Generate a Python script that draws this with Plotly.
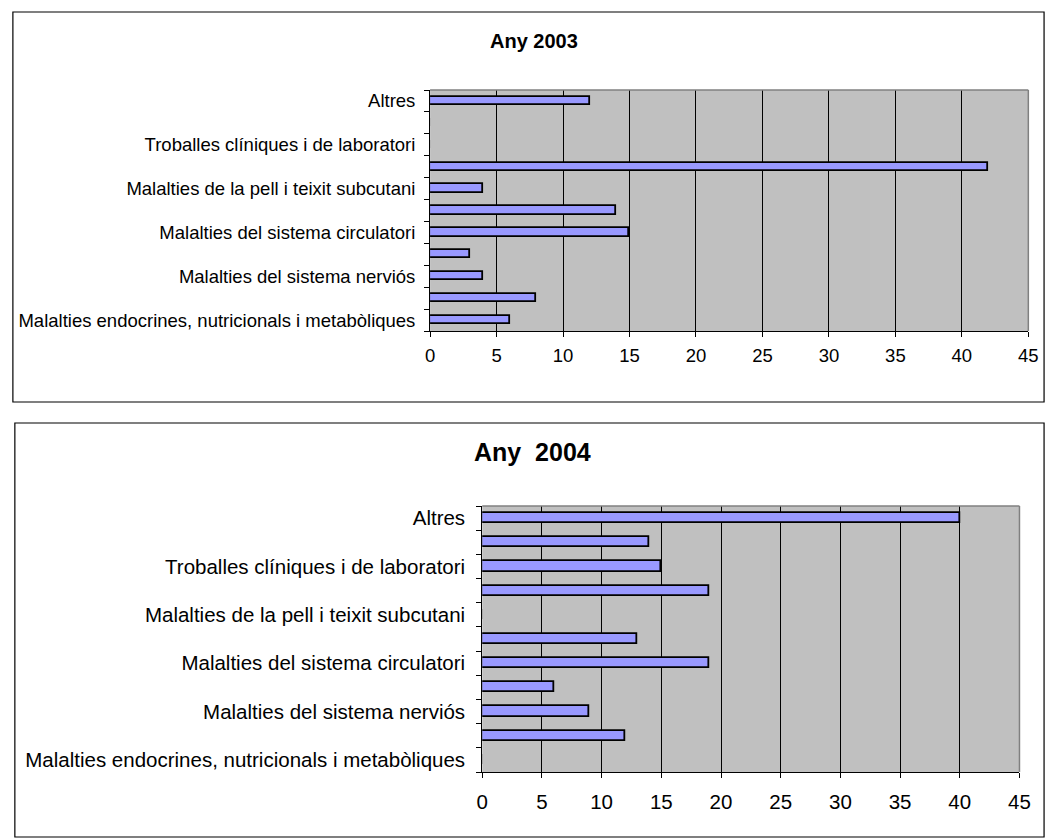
import plotly.graph_objects as go

# ---------------- data ----------------
categories = [
    "Malalties endocrines, nutricionals i metabòliques",
    "Trastorns mentals i del comportament",
    "Malalties del sistema nerviós",
    "Malalties de l'ull i dels annexos",
    "Malalties del sistema circulatori",
    "Malalties del sistema respiratori",
    "Malalties de la pell i teixit subcutani",
    "Malalties del sistema osteomuscular",
    "Troballes clíniques i de laboratori",
    "Lesions i enverinaments",
    "Altres",
]
values_2003 = [6, 8, 4, 3, 15, 14, 4, 42, 0, 0, 12]
values_2004 = [0, 12, 9, 6, 19, 13, 0, 19, 15, 14, 40]
x_tick_values = [0, 5, 10, 15, 20, 25, 30, 35, 40, 45]
titles = ["Any 2003", "Any  2004"]

# ---------------- layout helpers ----------------
W, H = 1059, 839


def px_x(x):
    return x / W


def px_y(y):
    return 1 - y / H


positions = list(range(len(categories)))
shown_text = [c if i % 2 == 0 else "" for i, c in enumerate(categories)]

BAR_COLOR = "#9999FF"
GRID = "#000000"
FONT = "Liberation Sans, Arial, sans-serif"

fig = go.Figure()

fig.add_trace(go.Bar(
    x=values_2003, y=positions, orientation="h", width=0.38,
    marker=dict(color=BAR_COLOR, line=dict(color="#000000", width=1.8)),
    xaxis="x", yaxis="y", showlegend=False, hoverinfo="x",
))
fig.add_trace(go.Bar(
    x=values_2004, y=positions, orientation="h", width=0.42,
    marker=dict(color=BAR_COLOR, line=dict(color="#000000", width=1.8)),
    xaxis="x2", yaxis="y2", showlegend=False, hoverinfo="x",
))

# plot-area pixel boxes [left, right, top, bottom]
top_box = (431, 1039, 90, 331)
bot_box = (484, 1030, 506, 772)


def xaxis_cfg(box, fsize, anchor, standoff):
    return dict(
        domain=[px_x(box[0]), px_x(box[1])], range=[0, 45],
        tickmode="array", tickvals=x_tick_values,
        showgrid=True, gridcolor=GRID, gridwidth=1,
        showline=True, linecolor="#000000", linewidth=1,
        ticks="outside", ticklen=5, tickcolor="#000000",
        tickfont=dict(family=FONT, size=fsize, color="#000000"),
        ticklabelstandoff=standoff, zeroline=False, anchor=anchor, fixedrange=True,
    )


def yaxis_cfg(box, fsize, anchor, standoff):
    return dict(
        domain=[px_y(box[3]), px_y(box[2])], range=[-0.5, len(categories) - 0.5],
        tickmode="array", tickvals=positions, ticktext=shown_text,
        ticks="outside", ticklen=0,
        minor=dict(tickmode="linear", tick0=-0.5, dtick=1, ticks="outside",
                   ticklen=5, tickcolor="#000000", showgrid=False),
        showgrid=False, zeroline=False,
        showline=True, linecolor="#000000", linewidth=1,
        tickfont=dict(family=FONT, size=fsize, color="#000000"),
        ticklabelstandoff=standoff, anchor=anchor, fixedrange=True,
    )


fig.update_layout(
    width=W, height=H,
    margin=dict(l=0, r=0, t=0, b=0),
    paper_bgcolor="#FFFFFF", plot_bgcolor="#C0C0C0",
    bargap=0,
    xaxis=xaxis_cfg(top_box, 18.5, "y", 3),
    yaxis=yaxis_cfg(top_box, 18.5, "x", 10),
    xaxis2=xaxis_cfg(bot_box, 20.5, "y2", 6),
    yaxis2=yaxis_cfg(bot_box, 20.5, "x2", 12),
)

shapes = []
# outer chart borders
shapes.append(dict(type="rect", xref="paper", yref="paper",
                   x0=px_x(7), x1=px_x(1055), y0=px_y(402), y1=px_y(12),
                   line=dict(color="#000000", width=1.2), layer="below"))
shapes.append(dict(type="rect", xref="paper", yref="paper",
                   x0=px_x(9), x1=px_x(1055), y0=px_y(837), y1=px_y(423),
                   line=dict(color="#000000", width=1.2), layer="below"))
# grey plot-area frames (top and right edges)
for xa, ya in (("x", "y"), ("x2", "y2")):
    shapes.append(dict(type="line", xref=f"{xa} domain", yref=f"{ya} domain",
                       x0=0, x1=1, y0=1, y1=1, line=dict(color="#808080", width=1.5)))
    shapes.append(dict(type="line", xref=f"{xa} domain", yref=f"{ya} domain",
                       x0=1, x1=1, y0=0, y1=1, line=dict(color="#808080", width=1.5)))
fig.update_layout(shapes=shapes)

fig.add_annotation(text=f"<b>{titles[0]}</b>", xref="paper", yref="paper",
                   x=px_x(537), y=px_y(41), xanchor="center", yanchor="middle",
                   showarrow=False,
                   font=dict(family=FONT, size=20, color="#000000"))
fig.add_annotation(text=f"<b>{titles[1]}</b>", xref="paper", yref="paper",
                   x=px_x(535), y=px_y(452), xanchor="center", yanchor="middle",
                   showarrow=False,
                   font=dict(family=FONT, size=25, color="#000000"))

fig.write_html(
    "out.html",
    config={"displayModeBar": False},
    post_script="document.body.style.margin='0';document.body.style.overflow='hidden';",
)
